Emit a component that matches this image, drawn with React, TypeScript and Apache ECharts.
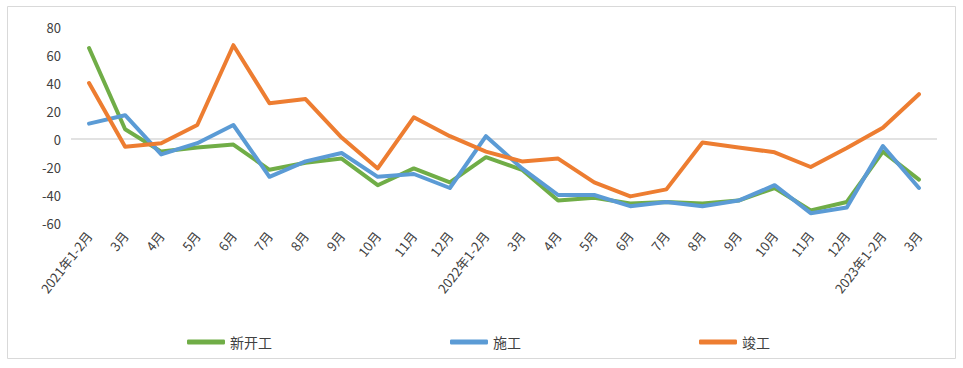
import React, { useEffect, useRef } from "react";
import * as echarts from "echarts";

const categories = [
  "2021年1-2月", "3月", "4月", "5月", "6月", "7月", "8月", "9月", "10月", "11月", "12月",
  "2022年1-2月", "3月", "4月", "5月", "6月", "7月", "8月", "9月", "10月", "11月", "12月",
  "2023年1-2月", "3月",
];
const xinKaiGong = [65, 7, -9, -6, -4, -22, -17, -14, -33, -21, -31, -13, -22, -44, -42, -46, -45, -46, -44, -35, -51, -45, -9, -29];
const shiGong = [11, 17, -11, -3, 10, -27, -16, -10, -27, -25, -35, 2, -21, -40, -40, -48, -45, -48, -44, -33, -53, -49, -5, -35];
const junGong = [40, -5.5, -3, 10, 67, 25.5, 28.5, 1, -21, 15.5, 2, -9, -16, -14, -31, -41, -36, -2.5, -6, -9.5, -20, -6.5, 8, 32];
const yTicks = { min: -60, max: 80, interval: 20 };

const FONT = "'Noto Sans CJK SC', 'Noto Sans', sans-serif";

export default function App() {
  const ref = useRef<HTMLDivElement>(null);
  useEffect(() => {
    if (!ref.current) return;
    const chart = echarts.init(ref.current, undefined, { renderer: "svg" });
    const mk = (name: string, data: number[], color: string, withZero: boolean) => ({
      name,
      type: "line",
      data,
      symbol: "none",
      lineStyle: { width: 4, color, cap: "round", join: "round" },
      itemStyle: { color },
      z: 3,
      markLine: withZero
        ? {
            silent: true,
            symbol: "none",
            label: { show: false },
            lineStyle: { color: "#d9d9d9", width: 1.5, type: "solid" },
            data: [{ yAxis: 0 }],
            z: 1,
          }
        : undefined,
    });
    chart.setOption({
      animation: false,
      backgroundColor: "#ffffff",
      graphic: [
        {
          type: "rect",
          shape: { x: 7.5, y: 6.5, width: 948, height: 352 },
          style: { fill: "none", stroke: "#d9d9d9", lineWidth: 1 },
          z: -1,
        },
      ],
      grid: { left: 71, right: 26, top: 27, bottom: 145, containLabel: false },
      legend: {
        bottom: 14,
        left: 182,
        itemGap: 178,
        itemWidth: 38,
        itemHeight: 5,
        icon: "roundRect",
        textStyle: { fontFamily: FONT, fontSize: 14, color: "#404040" },
        data: ["新开工", "施工", "竣工"],
      },
      xAxis: {
        type: "category",
        data: categories,
        boundaryGap: true,
        axisLine: { show: false },
        axisTick: { show: false },
        axisLabel: {
          interval: 0,
          rotate: 52,
          margin: 10,
          fontFamily: FONT,
          fontSize: 13,
          color: "#404040",
        },
      },
      yAxis: {
        type: "value",
        min: yTicks.min,
        max: yTicks.max,
        interval: yTicks.interval,
        axisLine: { show: false },
        axisTick: { show: false },
        splitLine: { show: false },
        axisLabel: { fontFamily: FONT, fontSize: 13, color: "#404040", margin: 10 },
      },
      series: [
        mk("新开工", xinKaiGong, "#70AD47", true),
        mk("施工", shiGong, "#5B9BD5", false),
        mk("竣工", junGong, "#ED7D31", false),
      ],
    });
    return () => chart.dispose();
  }, []);
  return (
    <div
      ref={ref}
      style={{ position: "absolute", left: 0, top: 0, width: 963, height: 368 }}
    />
  );
}
